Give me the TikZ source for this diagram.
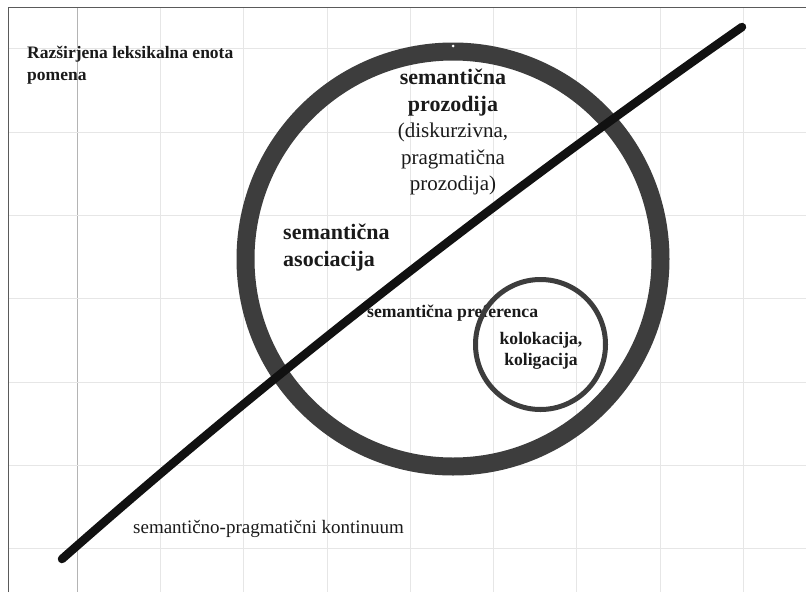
\documentclass[tikz,border=0pt]{standalone}
\usepackage{fontspec}
\setmainfont{Liberation Serif}
\definecolor{gridc}{HTML}{E6E6E6}
\definecolor{griddark}{HTML}{B4B4B4}
\definecolor{framec}{HTML}{5A5A5A}
\definecolor{ringc}{HTML}{3D3D3D}
\definecolor{linec}{HTML}{111111}
\definecolor{textc}{HTML}{1A1A1A}
\tikzset{
  gridline/.style={draw=gridc, line width=1pt},
  griddarkline/.style={draw=griddark, line width=0.8pt},
  frameline/.style={draw=framec, line width=1pt},
  bigring/.style={circle, draw=ringc, line width=18pt, minimum size=415pt, inner sep=0pt},
  smallring/.style={circle, draw=ringc, line width=5pt, minimum size=130pt, inner sep=0pt},
  continuum/.style={draw=linec, line width=8.5pt, line cap=round},
  boldlbl/.style={font=\bfseries, text=textc, inner sep=0pt},
  plainlbl/.style={text=textc, inner sep=0pt},
}
\begin{document}
\begin{tikzpicture}[x=1pt, y=-1pt]
\useasboundingbox (0,0) rectangle (806,592);
\fill[white] (0,0) rectangle (806,592);
% grid
\foreach \x in {160,243,327,410,493,576,660,743} {\draw[gridline] (\x,7) -- (\x,592);}
\draw[griddarkline] (77,7) -- (77,592);
\foreach \y in {48,132,215,298,382,465,548} {\draw[gridline] (8,\y) -- (806,\y);}
% frame
\draw[frameline] (8,592) -- (8,7) -- (806,7);
% circles
\node[bigring] (big) at (453,259) {};
\fill[white] (453,46) circle (1.5pt);
% texts
\node[boldlbl, anchor=north west, align=left, font=\bfseries\fontsize{17.5}{22}\selectfont] (title) at (27,46) {Razširjena leksikalna enota\\pomena};
\node[boldlbl, anchor=north, align=center, font=\fontsize{21}{26.5}\selectfont] (prozodija) at (453,69) {{\fontsize{22}{26.5}\selectfont\bfseries semantična}\\{\fontsize{22}{26.5}\selectfont\bfseries prozodija}\\(diskurzivna,\\pragmatična\\prozodija)};
\node[boldlbl, anchor=north west, align=left, font=\bfseries\fontsize{22}{27}\selectfont] (asociacija) at (283,224) {semantična\\asociacija};
\node[boldlbl, anchor=base west, font=\bfseries\fontsize{17.7}{20}\selectfont] (preferenca) at (367,317) {semantična preferenca};
\node[boldlbl, anchor=north, align=center, font=\bfseries\fontsize{17.6}{21}\selectfont] (kolokacija) at (541,332) {kolokacija,\\koligacija};
\node[plainlbl, anchor=base west, font=\fontsize{19}{22}\selectfont] (kontinuum) at (133,533) {semantično-pragmatični kontinuum};
\node[smallring] (small) at (540.5,344.5) {};
% continuum line
\coordinate (lineA) at (62,559);
\coordinate (lineB) at (742,27);
\draw[continuum] (lineA) .. controls (269,376) and (496,199) .. (lineB);
\end{tikzpicture}
\end{document}
